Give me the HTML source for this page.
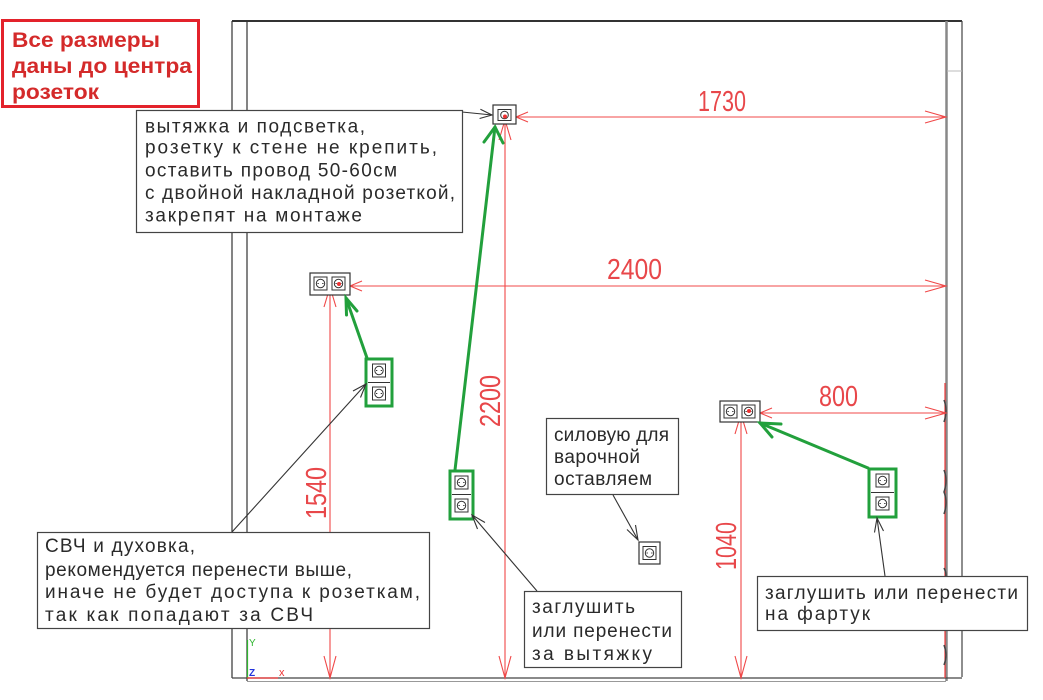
<!DOCTYPE html>
<html><head><meta charset="utf-8"><style>
html,body{margin:0;padding:0;background:#fff;}
svg{display:block;}
.g{font-family:"Liberation Sans","Noto Sans CJK SC",sans-serif;font-size:19px;fill:#2a2a2a;}
.d{font-family:"Liberation Sans",sans-serif;font-size:29px;fill:#e8474a;}
.r{font-family:"Liberation Sans",sans-serif;font-size:21px;font-weight:bold;fill:#d42a2a;}
</style></head><body>
<svg width="1043" height="700" viewBox="0 0 1043 700" xmlns="http://www.w3.org/2000/svg">
<defs>
<g id="sk">
<rect x="0" y="0" width="13" height="13" fill="#fff" stroke="#333" stroke-width="1"/>
<circle cx="6.5" cy="6.5" r="4.2" fill="none" stroke="#333" stroke-width="1"/>
<line x1="3.5" y1="6.5" x2="4.8" y2="6.5" stroke="#333" stroke-width="1"/>
<line x1="8.2" y1="6.5" x2="9.5" y2="6.5" stroke="#333" stroke-width="1"/>
</g>
</defs>

<!-- walls -->
<g fill="none">
<line x1="232" y1="21" x2="962" y2="21" stroke="#333" stroke-width="2"/>
<line x1="232" y1="21" x2="232" y2="678" stroke="#333" stroke-width="1.2"/>
<line x1="247" y1="21" x2="247" y2="681" stroke="#333" stroke-width="1.2"/>
<line x1="946.5" y1="21" x2="946.5" y2="681" stroke="#888" stroke-width="2.5"/>
<line x1="962" y1="21" x2="962" y2="677" stroke="#444" stroke-width="1.2"/>
<line x1="947" y1="71" x2="962" y2="71" stroke="#bbb" stroke-width="1"/>
<line x1="232" y1="678" x2="962" y2="678" stroke="#444" stroke-width="1.2"/>
<line x1="247" y1="681.5" x2="946" y2="681.5" stroke="#999" stroke-width="1"/>
</g>
<!-- right wall red line & marks -->
<line x1="945" y1="383" x2="945" y2="678" stroke="#f03a3a" stroke-width="1.2"/>
<g stroke="#444" stroke-width="1.5" fill="none">
<path d="M944 400 Q948 410 944 422"/>
<path d="M944 470 Q948 480 944 492 Q948 502 944 514"/>
<path d="M944 568 Q948 575 944 582"/>
<path d="M944 645 Q948 655 944 665"/>
</g>

<!-- red note box -->
<rect x="2.5" y="20.5" width="196" height="86" fill="#fff" stroke="#e3222b" stroke-width="3"/>
<text class="r" x="12" y="47" textLength="148" lengthAdjust="spacingAndGlyphs">Все размеры</text>
<text class="r" x="12" y="73" textLength="180" lengthAdjust="spacingAndGlyphs">даны до центра</text>
<text class="r" x="12" y="99" textLength="87" lengthAdjust="spacingAndGlyphs">розеток</text>

<!-- red dimension lines -->
<g stroke="#f04848" stroke-width="1.1" fill="none">
<line x1="516" y1="117" x2="946" y2="117"/>
<polyline points="925,111 946,117 925,123"/>
<polyline points="528,112 516,117 528,122"/>
<line x1="505" y1="120" x2="505" y2="678"/>
<polyline points="499,140 505,120 511,140"/>
<polyline points="499,656 505,678 511,656"/>

<line x1="350" y1="286" x2="946" y2="286"/>
<polyline points="925,280 946,286 925,292"/>
<polyline points="362,281 350,286 362,291"/>
<line x1="330" y1="287" x2="330" y2="678"/>
<polyline points="324,307 330,287 336,307"/>
<polyline points="324,656 330,678 336,656"/>

<line x1="760" y1="413" x2="946" y2="413"/>
<polyline points="925,407 946,413 925,419"/>
<polyline points="772,408 760,413 772,418"/>
<line x1="741" y1="414" x2="741" y2="678"/>
<polyline points="735,434 741,414 747,434"/>
<polyline points="735,656 741,678 747,656"/>
</g>

<!-- dimension labels -->
<text class="d" x="698" y="111" textLength="48" lengthAdjust="spacingAndGlyphs">1730</text>
<text class="d" x="607" y="279" textLength="55" lengthAdjust="spacingAndGlyphs">2400</text>
<text class="d" x="819" y="406" textLength="39" lengthAdjust="spacingAndGlyphs">800</text>
<text class="d" transform="translate(500,427) rotate(-90)" x="0" y="0" textLength="52" lengthAdjust="spacingAndGlyphs">2200</text>
<text class="d" transform="translate(326,519) rotate(-90)" x="0" y="0" textLength="52" lengthAdjust="spacingAndGlyphs">1540</text>
<text class="d" transform="translate(736,570) rotate(-90)" x="0" y="0" textLength="48" lengthAdjust="spacingAndGlyphs">1040</text>

<!-- sockets -->
<!-- top single -->
<rect x="493" y="105" width="23" height="19" fill="#fff" stroke="#333" stroke-width="1.2"/>
<rect x="498" y="109.5" width="13" height="11" fill="#fff" stroke="#333" stroke-width="1"/>
<circle cx="504.5" cy="115" r="3.8" fill="none" stroke="#333" stroke-width="1"/>
<circle cx="505" cy="116.5" r="2" fill="#e33"/>
<!-- pair 2400 -->
<rect x="310" y="273" width="40" height="22" fill="#fff" stroke="#333" stroke-width="1.2"/>
<use href="#sk" x="314" y="277"/>
<use href="#sk" x="332" y="277"/>
<circle cx="339" cy="284" r="2" fill="#e33"/>
<!-- pair 800 -->
<rect x="720" y="401" width="40" height="21" fill="#fff" stroke="#333" stroke-width="1.2"/>
<use href="#sk" x="724" y="405"/>
<use href="#sk" x="742" y="405"/>
<circle cx="749" cy="411" r="2" fill="#e33"/>
<!-- single bottom -->
<rect x="639" y="542" width="21" height="22" fill="#fff" stroke="#333" stroke-width="1.2"/>
<use href="#sk" x="643" y="546.5"/>

<!-- green boxes -->
<g>
<rect x="366" y="359" width="26" height="47" fill="#fff" stroke="#22a03c" stroke-width="3"/>
<line x1="368" y1="382.5" x2="390" y2="382.5" stroke="#333" stroke-width="1"/>
<use href="#sk" x="372.5" y="364"/>
<use href="#sk" x="372.5" y="387"/>

<rect x="450" y="471" width="23" height="48" fill="#fff" stroke="#22a03c" stroke-width="3"/>
<line x1="452" y1="494.5" x2="471" y2="494.5" stroke="#333" stroke-width="1"/>
<use href="#sk" x="455" y="476"/>
<use href="#sk" x="455" y="499"/>

<rect x="869" y="469" width="27" height="48" fill="#fff" stroke="#22a03c" stroke-width="3"/>
<line x1="871" y1="492.5" x2="894" y2="492.5" stroke="#333" stroke-width="1"/>
<use href="#sk" x="876" y="474"/>
<use href="#sk" x="876" y="497"/>
</g>

<!-- green arrows -->
<g stroke="#22a03c" stroke-width="3" fill="none" stroke-linecap="round">
<line x1="367" y1="358" x2="346" y2="298"/>
<polyline points="357,311 346,298 346.5,315"/>
<line x1="455" y1="470" x2="495" y2="127"/>
<polyline points="484,142 495,127 503,143"/>
<line x1="868" y1="468" x2="760" y2="423"/>
<polyline points="781,424 760,423 772,437"/>
</g>

<!-- black leader arrows -->
<g stroke="#333" stroke-width="1.1" fill="none">
<line x1="462" y1="112" x2="492" y2="115"/>
<polyline points="479.6,118.5 492,115 480.4,109.3"/>
<line x1="232" y1="532" x2="366" y2="384"/>
<polyline points="360.5,397.5 366,384 353,391"/>
<line x1="613" y1="495" x2="638" y2="540"/>
<polyline points="627,529.5 638,540 635.5,525"/>
<line x1="537" y1="591" x2="472" y2="515"/>
<polyline points="485,522.5 472,515 477.5,529"/>
<line x1="885" y1="576" x2="877" y2="518"/>
<polyline points="883.5,531 877,518 874.5,532.5"/>
</g>

<!-- callout boxes -->
<rect x="136.5" y="110.5" width="326" height="122" fill="#fff" stroke="#444" stroke-width="1.2"/>
<text class="g" x="145" y="132.5" textLength="220" lengthAdjust="spacing">вытяжка и подсветка,</text>
<text class="g" x="145" y="153.5" textLength="292" lengthAdjust="spacing">розетку к стене не крепить,</text>
<text class="g" x="145" y="176.5" textLength="252" lengthAdjust="spacing">оставить провод 50-60см</text>
<text class="g" x="145" y="199" textLength="310" lengthAdjust="spacing">с двойной накладной розеткой,</text>
<text class="g" x="145" y="221.5" textLength="217" lengthAdjust="spacing">закрепят на монтаже</text>

<rect x="37.5" y="532.5" width="392" height="96" fill="#fff" stroke="#444" stroke-width="1.2"/>
<text class="g" x="45" y="552" textLength="150" lengthAdjust="spacing">СВЧ и духовка,</text>
<text class="g" x="45" y="576" textLength="307" lengthAdjust="spacing">рекомендуется перенести выше,</text>
<text class="g" x="45" y="598" textLength="375" lengthAdjust="spacing">иначе не будет доступа к розеткам,</text>
<text class="g" x="45" y="621" textLength="268" lengthAdjust="spacing">так как попадают за СВЧ</text>

<rect x="546.5" y="418.5" width="132" height="76" fill="#fff" stroke="#444" stroke-width="1.2"/>
<text class="g" x="554" y="441" textLength="115" lengthAdjust="spacing">силовую для</text>
<text class="g" x="554" y="463" textLength="86" lengthAdjust="spacing">варочной</text>
<text class="g" x="554" y="485" textLength="98" lengthAdjust="spacing">оставляем</text>

<rect x="524.5" y="591.5" width="157" height="76" fill="#fff" stroke="#444" stroke-width="1.2"/>
<text class="g" x="532" y="613" textLength="103" lengthAdjust="spacing">заглушить</text>
<text class="g" x="532" y="637" textLength="140" lengthAdjust="spacing">или перенести</text>
<text class="g" x="532" y="660" textLength="120" lengthAdjust="spacing">за вытяжку</text>

<rect x="757.5" y="576.5" width="270" height="54" fill="#fff" stroke="#444" stroke-width="1.2"/>
<text class="g" x="765" y="599" textLength="253" lengthAdjust="spacing">заглушить или перенести</text>
<text class="g" x="765" y="620" textLength="105" lengthAdjust="spacing">на фартук</text>

<!-- UCS icon -->
<line x1="247.5" y1="640" x2="247.5" y2="678" stroke="#2fb52f" stroke-width="1.2"/>
<line x1="247" y1="678" x2="278" y2="678" stroke="#e33" stroke-width="1.2"/>
<text x="249" y="646" font-family="Liberation Sans,sans-serif" font-size="10" fill="#2fb52f">Y</text>
<text x="249" y="676" font-family="Liberation Sans,sans-serif" font-size="10" font-weight="bold" fill="#2233dd">Z</text>
<text x="279" y="676" font-family="Liberation Sans,sans-serif" font-size="11" fill="#e33">x</text>
</svg>
</body></html>
